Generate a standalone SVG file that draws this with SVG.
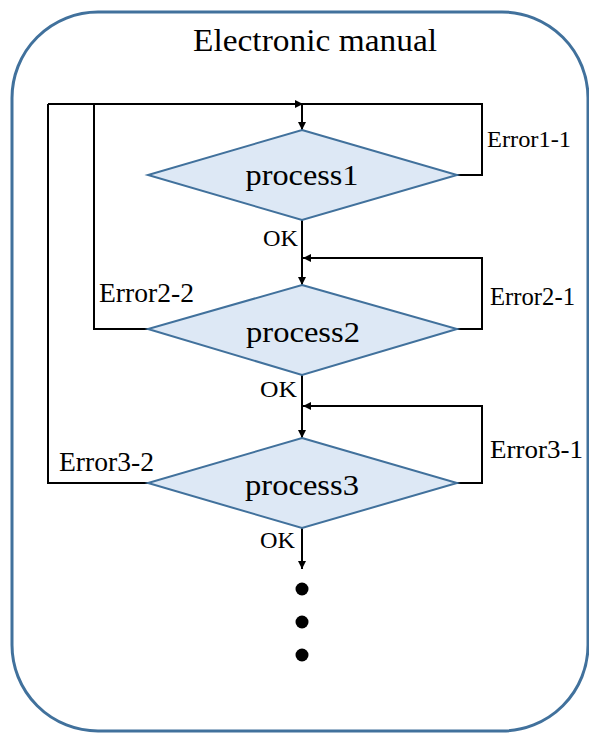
<svg xmlns="http://www.w3.org/2000/svg" width="589" height="733" viewBox="0 0 589 733">
  <style>
    .frame { fill: #ffffff; stroke: #41719C; stroke-width: 3; }
    .decision { fill: #DDE8F5; stroke: #41719C; stroke-width: 2; }
    .flow { fill: none; stroke: #000000; stroke-width: 2; }
    .txt { font-family: "Liberation Serif", "Times New Roman", serif; fill: #000000; }
    .title { font-size: 32px; }
    .proc { font-size: 29px; }
    .lbl { font-size: 24px; }
  </style>
  <defs>
    <marker id="arrow" viewBox="0 0 10 10" refX="10" refY="5" markerWidth="9" markerHeight="8" markerUnits="userSpaceOnUse" orient="auto">
      <path d="M0,0 L10,5 L0,10 Z" fill="#000000"/>
    </marker>
  </defs>

  <!-- outer frame -->
  <rect class="frame" x="12" y="12" width="576" height="719" rx="86" ry="86"/>
  <text class="txt title" x="315" y="51" text-anchor="middle" textLength="244" lengthAdjust="spacingAndGlyphs">Electronic manual</text>

  <!-- connectors -->
  <g id="connectors">
    <!-- entry line along the top into process1 -->
    <path class="flow" d="M48,104 H303" marker-end="url(#arrow)"/>
    <path class="flow" d="M302,104 V130" marker-end="url(#arrow)"/>
    <!-- Error1-1 loop -->
    <path class="flow" d="M457,175 H482 V104 H302"/>
    <!-- process1 OK -> process2 -->
    <path class="flow" d="M302,220 V285" marker-end="url(#arrow)"/>
    <!-- Error2-1 loop -->
    <path class="flow" d="M457,329 H482 V258 H303" marker-end="url(#arrow)"/>
    <!-- Error2-2 back to top -->
    <path class="flow" d="M148,329 H94 V104"/>
    <!-- process2 OK -> process3 -->
    <path class="flow" d="M302,375 V438" marker-end="url(#arrow)"/>
    <!-- Error3-1 loop -->
    <path class="flow" d="M457,483 H482 V406 H303" marker-end="url(#arrow)"/>
    <!-- Error3-2 back to top -->
    <path class="flow" d="M148,483 H48 V104"/>
    <!-- process3 OK onward -->
    <path class="flow" d="M302,528 V569" marker-end="url(#arrow)"/>
  </g>

  <g id="process1">
    <polygon class="decision" points="302,130 457,175 302,220 148,175"/>
    <text class="txt proc" x="302" y="185" text-anchor="middle" textLength="113" lengthAdjust="spacingAndGlyphs">process1</text>
  </g>
  <g id="process2">
    <polygon class="decision" points="302,285 457,329 302,375 148,329"/>
    <text class="txt proc" x="303" y="342" text-anchor="middle" textLength="114" lengthAdjust="spacingAndGlyphs">process2</text>
  </g>
  <g id="process3">
    <polygon class="decision" points="302,438 457,483 302,528 148,483"/>
    <text class="txt proc" x="302" y="495" text-anchor="middle" textLength="114" lengthAdjust="spacingAndGlyphs">process3</text>
  </g>

  <!-- connector labels -->
  <g id="labels">
    <text class="txt lbl" x="263" y="246" textLength="35" lengthAdjust="spacingAndGlyphs">OK</text>
    <text class="txt lbl" x="260" y="397" textLength="37" lengthAdjust="spacingAndGlyphs">OK</text>
    <text class="txt lbl" x="260" y="548" textLength="35" lengthAdjust="spacingAndGlyphs">OK</text>
    <text class="txt lbl" x="487" y="147" style="font-size:24px" textLength="84" lengthAdjust="spacingAndGlyphs">Error1-1</text>
    <text class="txt lbl" x="490" y="305" style="font-size:25px" textLength="85" lengthAdjust="spacingAndGlyphs">Error2-1</text>
    <text class="txt lbl" x="99" y="302" style="font-size:27px" textLength="95" lengthAdjust="spacingAndGlyphs">Error2-2</text>
    <text class="txt lbl" x="490" y="458" style="font-size:25px" textLength="93" lengthAdjust="spacingAndGlyphs">Error3-1</text>
    <text class="txt lbl" x="59" y="471" style="font-size:27px" textLength="95" lengthAdjust="spacingAndGlyphs">Error3-2</text>
  </g>

  <!-- continuation dots -->
  <g id="continuation">
    <circle cx="302" cy="589" r="6.5" fill="#000000"/>
    <circle cx="302" cy="622" r="6.5" fill="#000000"/>
    <circle cx="302" cy="655" r="6.5" fill="#000000"/>
  </g>
</svg>
